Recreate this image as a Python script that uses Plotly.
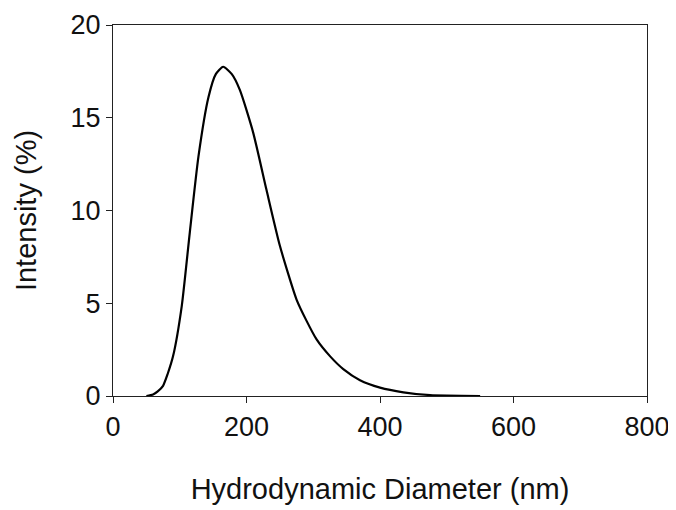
import plotly.graph_objects as go

# hydrodynamic diameter (nm) vs intensity (%)
diameter = [50, 60, 67, 75, 82, 90, 103, 115, 128, 143, 154, 165, 178, 190, 210, 230, 250, 275, 290, 305, 325, 345, 370, 400, 435, 475, 550]
intensity = [0.0, 0.08, 0.25, 0.55, 1.2, 2.15, 4.85, 8.8, 12.9, 16.1, 17.35, 17.75, 17.35, 16.5, 14.2, 11.1, 8.1, 5.2, 4.05, 3.05, 2.15, 1.45, 0.85, 0.45, 0.2, 0.05, 0.0]

x_ticks = [0, 200, 400, 600, 800]
y_ticks = [0, 5, 10, 15, 20]

fig = go.Figure()
fig.add_trace(go.Scatter(
    x=diameter, y=intensity, mode="lines",
    line=dict(color="black", width=2.2, shape="spline", smoothing=0.6),
    showlegend=False
))

axis_common = dict(
    showline=True, linecolor="#222", linewidth=1.3, mirror=True,
    showgrid=False, zeroline=False, automargin=False,
    ticks="outside", ticklen=6, tickwidth=1.3, tickcolor="#222",
    tickfont=dict(size=27, color="#111"),
)

# the page body adds an 8px margin, so the figure is 8px smaller
fig.update_layout(
    width=668, height=502,
    margin=dict(l=105, r=29, t=17, b=114),
    paper_bgcolor="white", plot_bgcolor="white",
    font=dict(family="Liberation Sans, Arial, sans-serif", color="#111"),
    xaxis=dict(range=[0, 800], tickvals=x_ticks,
               title=dict(text="Hydrodynamic Diameter (nm)", font=dict(size=29), standoff=38),
               **axis_common),
    yaxis=dict(range=[0, 20], tickvals=y_ticks,
               title=dict(text="Intensity (%)", font=dict(size=29), standoff=25),
               **axis_common),
)

fig.write_html("out.html")
